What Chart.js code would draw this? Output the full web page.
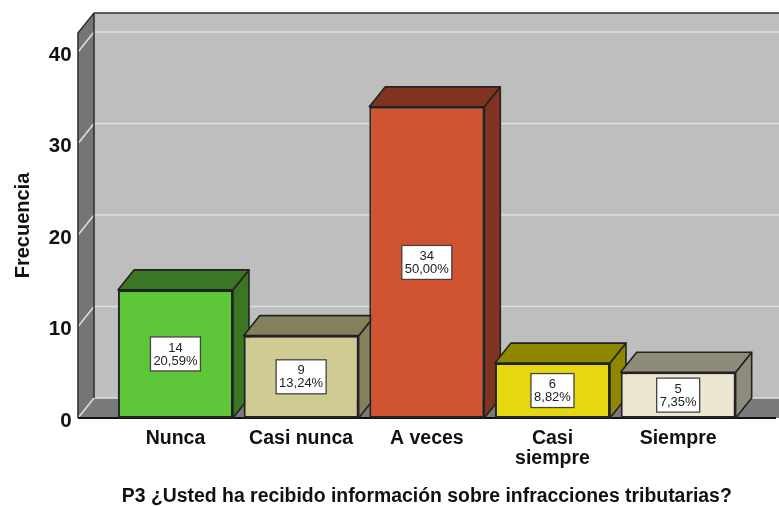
<!DOCTYPE html>
<html>
<head>
<meta charset="utf-8">
<style>html,body{margin:0;padding:0;background:#fff}canvas{display:block}</style>
<script src="https://cdn.jsdelivr.net/npm/chart.js@4"></script>
</head>
<body>
<canvas id="c" width="779" height="507"></canvas>
<script>
const categories = ["Nunca", "Casi nunca", "A veces", ["Casi", "siempre"], "Siempre"];
const frequencies = [14, 9, 34, 6, 5];
const percentLabels = ["20,59%", "13,24%", "50,00%", "8,82%", "7,35%"];
const frontColors = ["#5EC639", "#D0CB92", "#D05432", "#E5D80E", "#ECE6D2"];
const shadeColors = ["#3A7623", "#84805C", "#7F3320", "#8F8700", "#8F8B7A"];
const yTicks = [0, 10, 20, 30, 40];
const yAxisTitle = "Frecuencia";
const xAxisTitle = "P3 ¿Usted ha recibido información sobre infracciones tributarias?";

const DX = 16, DY = 20, LEFT_GAP = 34.6;
const FONT = '"Liberation Sans", Arial, sans-serif';

function poly(ctx, pts, fill, stroke, lw) {
  ctx.beginPath();
  pts.forEach((p, i) => i ? ctx.lineTo(p[0], p[1]) : ctx.moveTo(p[0], p[1]));
  ctx.closePath();
  if (fill) { ctx.fillStyle = fill; ctx.fill(); }
  if (stroke) { ctx.strokeStyle = stroke; ctx.lineWidth = lw || 1.5; ctx.lineJoin = 'round'; ctx.stroke(); }
}

const scene3d = {
  id: 'scene3d',
  beforeDraw(chart) {
    const { ctx, chartArea: a, scales: { y } } = chart;
    const L = a.left - LEFT_GAP, R = chart.width, T = a.top, B = a.bottom;
    ctx.save();
    poly(ctx, [[L + DX, T - DY], [R, T - DY], [R, B - DY], [L + DX, B - DY]], '#BEBEBE');
    poly(ctx, [[L, B], [L + DX, B - DY], [R, B - DY], [R, B]], '#7A7A7A');
    poly(ctx, [[L, T], [L + DX, T - DY], [L + DX, B - DY], [L, B]], '#757575');
    ctx.strokeStyle = '#DEDEDE';
    ctx.lineWidth = 1.6;
    yTicks.forEach(v => {
      const py = y.getPixelForValue(v);
      ctx.beginPath();
      ctx.moveTo(L, py);
      ctx.lineTo(L + DX, py - DY);
      ctx.lineTo(R, py - DY);
      ctx.stroke();
    });
    ctx.strokeStyle = '#333';
    ctx.lineWidth = 1.6;
    ctx.beginPath();
    ctx.moveTo(R, T - DY); ctx.lineTo(L + DX, T - DY); ctx.lineTo(L, T); ctx.lineTo(L, B);
    ctx.moveTo(L + DX, T - DY); ctx.lineTo(L + DX, B - DY);
    ctx.stroke();
    ctx.strokeStyle = '#111';
    ctx.lineWidth = 2;
    ctx.beginPath();
    ctx.moveTo(L, B); ctx.lineTo(a.right + 35, B);
    ctx.stroke();
    ctx.restore();
  },
  beforeDatasetsDraw(chart) {
    const { ctx } = chart;
    ctx.save();
    chart.getDatasetMeta(0).data.forEach((el, i) => {
      const l = el.x - el.width / 2, r = el.x + el.width / 2, t = el.y, b = el.base;
      poly(ctx, [[r, t], [r + DX, t - DY], [r + DX, b - DY], [r, b]], shadeColors[i], '#222', 1.6);
      poly(ctx, [[l, t], [l + DX, t - DY], [r + DX, t - DY], [r, t]], shadeColors[i], '#222', 1.6);
    });
    ctx.restore();
  },
  afterDatasetsDraw(chart) {
    const { ctx } = chart;
    ctx.save();
    ctx.textAlign = 'center';
    ctx.textBaseline = 'middle';
    chart.getDatasetMeta(0).data.forEach((el, i) => {
      const cy = (el.y + el.base) / 2;
      ctx.font = '13px ' + FONT;
      const w = percentLabels[i].length > 5 ? 50 : 43, h = 34;
      ctx.fillStyle = '#fff';
      ctx.fillRect(el.x - w / 2, cy - h / 2, w, h);
      ctx.strokeStyle = '#444';
      ctx.lineWidth = 1.3;
      ctx.strokeRect(el.x - w / 2, cy - h / 2, w, h);
      ctx.fillStyle = '#222';
      ctx.fillText(String(frequencies[i]), el.x, cy - 6);
      ctx.fillText(percentLabels[i], el.x, cy + 7);
    });
    ctx.restore();
  }
};

new Chart(document.getElementById('c'), {
  type: 'bar',
  data: {
    labels: categories,
    datasets: [{
      data: frequencies,
      backgroundColor: frontColors,
      borderColor: '#222',
      borderWidth: 2,
      borderSkipped: false,
      barPercentage: 0.915,
      categoryPercentage: 1
    }]
  },
  plugins: [scene3d],
  options: {
    responsive: false,
    animation: false,
    layout: { autoPadding: false, padding: { top: 33, right: 38, left: 0, bottom: 0 } },
    plugins: { legend: { display: false }, tooltip: { enabled: false } },
    scales: {
      x: {
        grid: { display: false },
        border: { display: false },
        ticks: {
          color: '#111', padding: 3, maxRotation: 0, autoSkip: false,
          font: { family: FONT, size: 19.5, weight: 'bold', lineHeight: 1 }
        },
        title: {
          display: true, text: xAxisTitle, color: '#111',
          font: { family: FONT, size: 19.4, weight: 'bold', lineHeight: 1.1 },
          padding: { top: 0, bottom: 0 }
        },
        afterFit(s) { s.height = 89; s.paddingLeft = 0; s.paddingRight = 0; }
      },
      y: {
        min: 0,
        max: 42.07,
        afterBuildTicks(s) { s.ticks = yTicks.map(v => ({ value: v })); },
        grid: { display: false },
        border: { display: false },
        ticks: {
          color: '#111', padding: 33, labelOffset: 3,
          font: { family: FONT, size: 20.5, weight: 'bold' }
        },
        title: {
          display: true, text: yAxisTitle, color: '#111',
          font: { family: FONT, size: 20, weight: 'bold' },
          padding: { top: 11, bottom: 0 }
        },
        afterFit(s) { s.width = 112.6; s.paddingTop = 0; s.paddingBottom = 0; }
      }
    }
  }
});
</script>
</body>
</html>
